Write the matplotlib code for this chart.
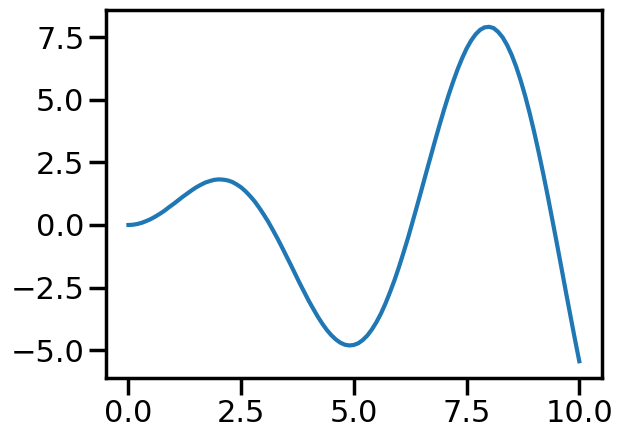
import matplotlib
matplotlib.use("Agg")
import matplotlib.pyplot as plt
import seaborn as sns

# values, every 0.1 along x
x_vals = [round(0.1 * i, 1) for i in range(101)]
y_vals = [0.00, 0.01, 0.04, 0.09, 0.16, 0.24, 0.34, 0.45, 0.57, 0.71,
          0.84, 0.98, 1.12, 1.25, 1.38, 1.50, 1.60, 1.69, 1.75, 1.80,
          1.82, 1.81, 1.78, 1.72, 1.62, 1.50, 1.34, 1.15, 0.94, 0.69,
          0.42, 0.13, -0.19, -0.52, -0.87, -1.23, -1.59, -1.96, -2.33, -2.68,
          -3.03, -3.35, -3.66, -3.94, -4.19, -4.40, -4.57, -4.70, -4.78, -4.81,
          -4.79, -4.72, -4.59, -4.41, -4.17, -3.88, -3.54, -3.14, -2.69, -2.21,
          -1.68, -1.11, -0.52, 0.11, 0.75, 1.40, 2.06, 2.71, 3.36, 3.99,
          4.60, 5.18, 5.71, 6.21, 6.65, 7.04, 7.36, 7.61, 7.79, 7.89,
          7.91, 7.86, 7.71, 7.49, 7.18, 6.79, 6.32, 5.77, 5.15, 4.46,
          3.71, 2.90, 2.05, 1.16, 0.23, -0.71, -1.67, -2.64, -3.59, -4.53,
          -5.44]

sns.set_context("poster")

fig, ax = plt.subplots(figsize=(6.23, 4.40), dpi=100)
fig.subplots_adjust(left=0.170, right=0.966, bottom=0.141, top=0.977)

ax.plot(x_vals, y_vals, color="#1f77b4")
ax.set_xticks([0.0, 2.5, 5.0, 7.5, 10.0])
ax.set_yticks([-5.0, -2.5, 0.0, 2.5, 5.0, 7.5])

fig.savefig("out.png", dpi=100)
